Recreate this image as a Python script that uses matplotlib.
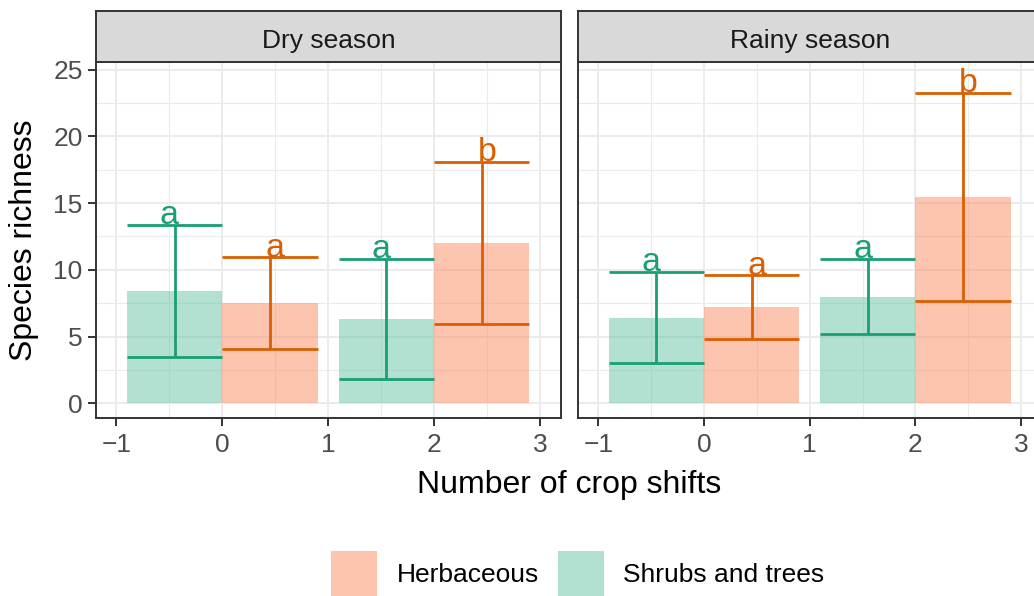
import matplotlib
matplotlib.use("Agg")
import matplotlib.pyplot as plt
from matplotlib.patches import Patch
import numpy as np

plt.rcParams['font.family'] = ['Liberation Sans', 'DejaVu Sans']

# summary values per season: [0 shifts, 2 shifts]
seasons = ["Dry season", "Rainy season"]
shifts = [0, 2]
groups = ["Shrubs and trees", "Herbaceous"]

mean_shrub = {"Dry season": [8.4, 6.3], "Rainy season": [6.4, 8.0]}
low_shrub = {"Dry season": [3.5, 1.85], "Rainy season": [3.0, 5.2]}
high_shrub = {"Dry season": [13.35, 10.85], "Rainy season": [9.85, 10.85]}
mean_herb = {"Dry season": [7.5, 12.0], "Rainy season": [7.2, 15.45]}
low_herb = {"Dry season": [4.1, 5.95], "Rainy season": [4.8, 7.7]}
high_herb = {"Dry season": [10.95, 18.1], "Rainy season": [9.6, 23.25]}
letters_shrub = {"Dry season": ["a", "a"], "Rainy season": ["a", "a"]}
letters_herb = {"Dry season": ["a", "b"], "Rainy season": ["a", "b"]}

fill_col = {"Shrubs and trees": "#66C2A5", "Herbaceous": "#FC8D62"}
line_col = {"Shrubs and trees": "#1B9E77", "Herbaceous": "#D95F02"}

W, H = 1034, 596
fig = plt.figure(figsize=(W / 100, H / 100), dpi=100)

# panel boxes in pixels: left, right (the right facet runs past the edge)
panels = [(95.8, 561.2), (577.7, 1042.3)]
p_top, p_bot, s_top = 62.3, 418.3, 11.0

def frac(x0, x1, y0, y1):
    return [x0 / W, 1 - y1 / H, (x1 - x0) / W, (y1 - y0) / H]

border = "#333333"
for i, season in enumerate(seasons):
    x0, x1 = panels[i]
    ax = fig.add_axes(frac(x0, x1, p_top, p_bot))
    ax.set_xlim(-1.195, 3.2)
    ax.set_ylim(-1.11, 25.54)
    ax.set_xticks([-1, 0, 1, 2, 3])
    ax.set_xticklabels(["\u22121", "0", "1", "2", "3"])
    ax.set_yticks([0, 5, 10, 15, 20, 25])
    ax.set_xticks(np.arange(-0.5, 3.0, 1.0), minor=True)
    ax.set_yticks(np.arange(2.5, 25, 5.0), minor=True)
    ax.grid(which="major", color="#EBEBEB", lw=1.4)
    ax.grid(which="minor", color="#EBEBEB", lw=0.8)
    ax.set_axisbelow(True)
    ax.tick_params(which="minor", length=0)
    ax.tick_params(which="major", length=5.5, width=1.4, color=border,
                   labelsize=19, labelcolor="#4D4D4D")
    ax.tick_params(axis="x", pad=5)
    ax.tick_params(axis="y", pad=4)
    for sp in ax.spines.values():
        sp.set_color(border)
        sp.set_linewidth(1.4)
    if i == 1:
        ax.tick_params(axis="y", left=False, labelleft=False)

    xs = np.array(shifts, dtype=float)
    for g, means, lows, highs, lets, off in [
        ("Shrubs and trees", mean_shrub, low_shrub, high_shrub, letters_shrub, -0.45),
        ("Herbaceous", mean_herb, low_herb, high_herb, letters_herb, 0.45),
    ]:
        cx = xs + off
        ax.bar(cx, means[season], width=0.9, color=fill_col[g], alpha=0.5, lw=0)
        ax.vlines(cx, lows[season], highs[season], color=line_col[g], lw=2.0)
        ax.hlines(lows[season], cx - 0.45, cx + 0.45, color=line_col[g], lw=2.0)
        ax.hlines(highs[season], cx - 0.45, cx + 0.45, color=line_col[g], lw=2.0)
        for xx, yy, t in zip(cx + np.sign(off) * 0.05, highs[season], lets[season]):
            ax.text(xx, yy + 0.05, t, color=line_col[g], fontsize=24.5,
                    ha="center", va="baseline")

    # facet strip
    sax = fig.add_axes(frac(x0, x1, s_top, p_top))
    sax.set_facecolor("#D9D9D9")
    sax.set_xticks([])
    sax.set_yticks([])
    for sp in sax.spines.values():
        sp.set_color(border)
        sp.set_linewidth(1.4)
    sax.text(0.5, 0.285, season, ha="center", va="baseline", fontsize=19,
             color="#1A1A1A", transform=sax.transAxes)

fig.text(569 / W, 1 - 493 / H, "Number of crop shifts", ha="center",
         va="baseline", fontsize=23)
fig.text(23.7 / W, 1 - 240.3 / H, "Species richness", ha="center",
         va="center", rotation=90, fontsize=23)

handles = [Patch(facecolor=fill_col["Herbaceous"], alpha=0.5, lw=0),
           Patch(facecolor=fill_col["Shrubs and trees"], alpha=0.5, lw=0)]
fig.legend(handles, ["Herbaceous", "Shrubs and trees"], loc="center",
           bbox_to_anchor=(577.7 / W, 1 - 573.4 / H), ncol=2, frameon=False,
           fontsize=19, handlelength=1.75, handleheight=2.24,
           handletextpad=0.72, columnspacing=0.73, borderpad=0)

fig.savefig("out.png", dpi=100)
